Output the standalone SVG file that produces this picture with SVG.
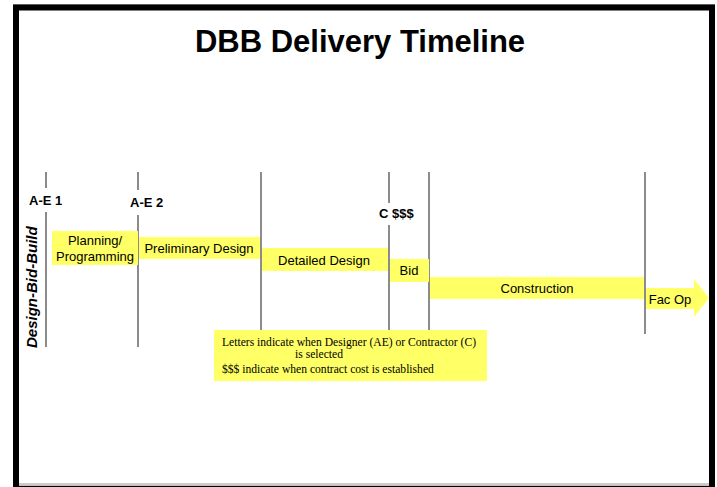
<svg xmlns="http://www.w3.org/2000/svg" width="717" height="487" viewBox="0 0 717 487">
<style>
.vl{stroke:#666;stroke-width:1.5;fill:none}
.ph{fill:#FFFF66}
.pt{font-family:"Liberation Sans",Arial,sans-serif;font-size:13px;fill:#000;text-anchor:middle}
.lb{font-family:"Liberation Sans",Arial,sans-serif;font-size:13px;font-weight:bold;fill:#000}
.nt{font-family:"Liberation Serif","Times New Roman",serif;font-size:11.6px;fill:#000}
</style>
<rect x="0" y="0" width="717" height="487" fill="#fff"/>
<g id="frame">
<line x1="13" y1="4.5" x2="715" y2="4.5" stroke="#bbb" stroke-width="1"/>
<path d="M16 487 V7.5 H712 V487" fill="none" stroke="#000" stroke-width="6"/>
<line x1="19" y1="484" x2="709" y2="484" stroke="#bbb" stroke-width="1.5"/>
<line x1="13" y1="486.5" x2="715" y2="486.5" stroke="#000" stroke-width="1.5"/>
</g>
<text id="title" x="360" y="52" font-family="Liberation Sans,Arial,sans-serif" font-size="31" font-weight="bold" text-anchor="middle">DBB Delivery Timeline</text>
<g id="connectors">
<path class="vl" d="M46 172V188M46 212V347"/>
<path class="vl" d="M138 172V190M138 215V347"/>
<path class="vl" d="M261 172V330"/>
<path class="vl" d="M389 172V203M389 225V330"/>
<path class="vl" d="M429 172V330"/>
<path class="vl" d="M645 172V334"/>
</g>
<g id="milestones">
<text class="lb" x="29" y="205">A-E 1</text>
<text class="lb" x="130" y="207">A-E 2</text>
<text class="lb" x="379" y="218">C $$$</text>
</g>
<text id="dbb-label" transform="translate(36.5,348) rotate(-90)" font-family="Liberation Sans,Arial,sans-serif" font-size="15" font-weight="bold" font-style="italic">Design-Bid-Build</text>
<g id="planning">
<rect class="ph" x="52" y="231" width="86" height="34"/>
<text class="pt" x="95" y="245">Planning/</text>
<text class="pt" x="95" y="261">Programming</text>
</g>
<g id="preliminary">
<rect class="ph" x="139" y="237" width="121" height="22"/>
<text class="pt" x="199" y="253">Preliminary Design</text>
</g>
<g id="detailed">
<rect class="ph" x="262" y="248" width="126" height="23"/>
<text class="pt" x="324" y="265">Detailed Design</text>
</g>
<g id="bid">
<rect class="ph" x="390" y="259" width="39" height="23"/>
<text class="pt" x="409" y="275">Bid</text>
</g>
<g id="construction">
<rect class="ph" x="430" y="277" width="214" height="22"/>
<text class="pt" x="537" y="293">Construction</text>
</g>
<g id="facop">
<path class="ph" d="M646 288H694V279L709 298L694 317V309H646Z"/>
<text class="pt" x="670" y="304">Fac Op</text>
</g>
<g id="note">
<rect class="ph" x="214" y="330" width="273" height="51"/>
<text class="nt" x="222" y="346">Letters indicate when Designer (AE) or Contractor (C)</text>
<text class="nt" x="295" y="358">is selected</text>
<text class="nt" x="222" y="373">$$$ indicate when contract cost is established</text>
</g>
</svg>
